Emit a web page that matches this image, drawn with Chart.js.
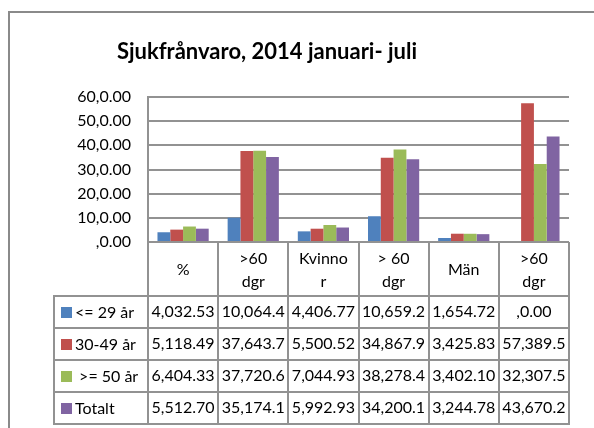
<!DOCTYPE html>
<html><head><meta charset="utf-8">
<script src="https://cdn.jsdelivr.net/npm/chart.js@4/dist/chart.umd.min.js"></script>
<style>html,body{margin:0;padding:0;background:#fff}#wrap{width:594px;height:428px;position:relative}</style>
</head><body><div id="wrap"><canvas id="c" width="594" height="428"></canvas></div>
<script>
const titleText = 'Sjukfrånvaro, 2014 januari- juli';
const categories = [['%'], ['>60', 'dgr'], ['Kvinno', 'r'], ['> 60', 'dgr'], ['Män'], ['>60', 'dgr']];
const seriesNames = ['<= 29 år', '30-49 år', ' >= 50 år', 'Totalt'];
const seriesColors = ['#4F81BD', '#C0504D', '#9BBB59', '#8064A2'];
const valsUpTo29 = [4.03253, 10.0644, 4.40677, 10.6592, 1.65472, 0];
const vals30to49 = [5.11849, 37.6437, 5.50052, 34.8679, 3.42583, 57.3895];
const vals50plus = [6.40433, 37.7206, 7.04493, 38.2784, 3.40210, 32.3075];
const valsTotal = [5.51270, 35.1741, 5.99293, 34.2001, 3.24478, 43.6702];
const tableUpTo29 = ['4,032.53', '10,064.4', '4,406.77', '10,659.2', '1,654.72', ',0.00'];
const table30to49 = ['5,118.49', '37,643.7', '5,500.52', '34,867.9', '3,425.83', '57,389.5'];
const table50plus = ['6,404.33', '37,720.6', '7,044.93', '38,278.4', '3,402.10', '32,307.5'];
const tableTotal = ['5,512.70', '35,174.1', '5,992.93', '34,200.1', '3,244.78', '43,670.2'];
const yTickLabels = [',0.00', '10,0.00', '20,0.00', '30,0.00', '40,0.00', '50,0.00', '60,0.00'];

const seriesVals = [valsUpTo29, vals30to49, vals50plus, valsTotal];
const tableRows = [tableUpTo29, table30to49, table50plus, tableTotal];
const FONT = 'Lato';
const LINE = '#929292';

const tablePlugin = {
  id: 'tablePlugin',
  beforeDraw(chart) {
    const ctx = chart.ctx;
    ctx.save();
    ctx.fillStyle = '#fff';
    ctx.fillRect(0, 0, chart.width, chart.height);
    ctx.strokeStyle = '#8a8a8a';
    ctx.lineWidth = 2;
    ctx.strokeRect(9, 12, chart.width + 20, chart.height + 20);
    ctx.fillStyle = '#000';
    ctx.font = 'bold 22px ' + FONT;
    ctx.textAlign = 'center';
    ctx.textBaseline = 'middle';
    ctx.fillText(titleText, 267, 52);
    ctx.restore();
  },
  afterDraw(chart) {
    const ctx = chart.ctx;
    const xs = chart.scales.x;
    const area = chart.chartArea;
    const n = categories.length;
    const cw = (area.right - area.left) / n;
    const bounds = [];
    for (let i = 0; i < n; i++) bounds.push(xs.getPixelForValue(i) - cw / 2);
    bounds.push(xs.getPixelForValue(n - 1) + cw / 2);
    const top = area.bottom;
    const headerH = 54;
    const rowH = 32;
    const tableLeft = 54;
    const rowsTop = top + headerH;
    const bottom = rowsTop + rowH * seriesNames.length;
    ctx.save();
    ctx.strokeStyle = LINE;
    ctx.lineWidth = 2;
    ctx.beginPath();
    bounds.forEach((b, i) => {
      const x = Math.round(b);
      ctx.moveTo(x, i === 0 ? area.top : top);
      ctx.lineTo(x, bottom);
    });
    ctx.moveTo(tableLeft, rowsTop); ctx.lineTo(tableLeft, bottom);
    for (let r = 0; r <= seriesNames.length; r++) {
      const y = Math.round(rowsTop + r * rowH);
      ctx.moveTo(tableLeft - 1, y); ctx.lineTo(bounds[n] + 1, y);
    }
    ctx.stroke();
    ctx.fillStyle = '#000';
    ctx.font = '16px ' + FONT;
    ctx.textAlign = 'center';
    ctx.textBaseline = 'middle';
    categories.forEach((lines, i) => {
      const cx = (bounds[i] + bounds[i + 1]) / 2;
      const cy = top + headerH / 2 + 1;
      const lh = 23;
      lines.forEach((t, k) => {
        ctx.fillText(t, cx, cy + (k - (lines.length - 1) / 2) * lh);
      });
    });
    tableRows.forEach((row, r) => {
      const cy = rowsTop + r * rowH + rowH / 2;
      row.forEach((t, i) => {
        ctx.fillText(t, (bounds[i] + bounds[i + 1]) / 2, cy);
      });
    });
    ctx.textAlign = 'left';
    seriesNames.forEach((name, r) => {
      const cy = rowsTop + r * rowH + rowH / 2;
      ctx.fillStyle = seriesColors[r];
      ctx.fillRect(61, Math.round(cy - 5), 11, 11);
      ctx.fillStyle = '#000';
      ctx.fillText(name, 75, cy + 1);
    });
    ctx.restore();
  }
};

new Chart(document.getElementById('c'), {
  type: 'bar',
  data: {
    labels: categories.map(c => c.join(' ')),
    datasets: seriesNames.map((name, i) => ({
      label: name,
      data: seriesVals[i],
      backgroundColor: seriesColors[i],
      borderWidth: 0,
      categoryPercentage: 0.73,
      barPercentage: 1
    }))
  },
  options: {
    responsive: false,
    animation: false,
    devicePixelRatio: 1,
    layout: { padding: { top: 97, right: 25, bottom: 186, left: 0 } },
    plugins: { legend: { display: false }, title: { display: false }, tooltip: { enabled: false } },
    scales: {
      x: { display: false },
      y: {
        min: 0, max: 60,
        ticks: {
          stepSize: 10,
          color: '#000',
          font: { family: FONT, size: 16 },
          padding: 17,
          callback: (v, i) => yTickLabels[i]
        },
        grid: { color: LINE, lineWidth: 2, drawTicks: false },
        border: { display: true, color: LINE, width: 2 },
        afterFit: s => { s.width = 148; }
      }
    }
  },
  plugins: [tablePlugin]
});
</script>
</body></html>
